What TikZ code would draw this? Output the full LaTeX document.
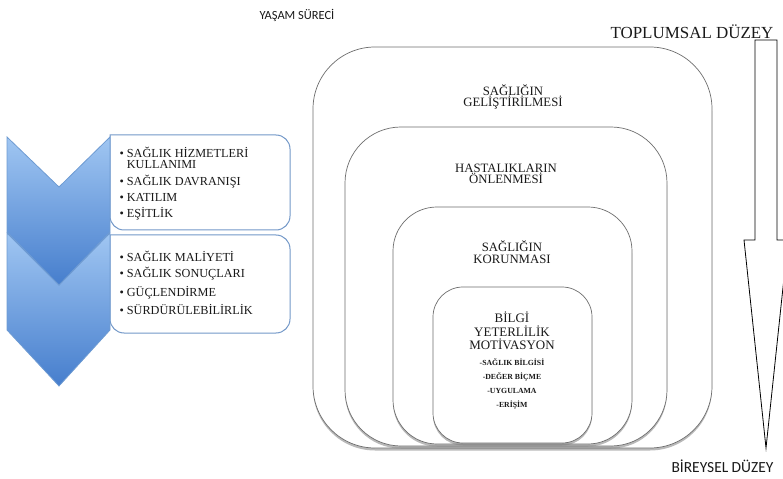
\documentclass[tikz,border=0pt]{standalone}
\usepackage{fontspec}
\setmainfont{Liberation Serif}
\newfontfamily\calfont{Carlito}
\usetikzlibrary{positioning,shadows}

\definecolor{chevtop}{RGB}{160,198,242}
\definecolor{chevbot}{RGB}{70,126,205}
\definecolor{chevline}{RGB}{110,155,210}
\definecolor{boxline}{RGB}{115,152,200}
\definecolor{ink}{RGB}{25,25,25}
\definecolor{layerline}{RGB}{110,110,110}

\begin{document}
\begin{tikzpicture}[x = 1bp, y = -1bp,
                    chevron/.style  = {draw = chevline,
                                       top color = chevtop,
                                       bottom color = chevbot,
                                       line width = 0.8bp},
                    listbox/.style  = {draw = boxline,
                                       fill = white,
                                       line width = 1bp},
                    items/.style    = {align = left,
                                       anchor = west,
                                       text = ink,
                                       font = \fontsize{12.3}{11}\selectfont},
                    layer/.style    = {draw = layerline,
                                       fill = white,
                                       line width = 0.7bp,
                                       inner sep = 0pt,
                                       drop shadow = {shadow xshift = 0bp,
                                                      shadow yshift = -2.5bp,
                                                      opacity = 0.55}},
                    tag/.style      = {align = center,
                                       text = ink,
                                       font = \fontsize{12.8}{11.5}\selectfont},
                    small/.style    = {align = center,
                                       text = ink,
                                       font = \bfseries\fontsize{7.8}{14}\selectfont}]

\useasboundingbox (0,0) rectangle (783,479);

% nested levels
\node[layer, minimum width = 399bp, minimum height = 401bp, rounded corners = 62bp] (promo) at (512.5,247.5) {};
\node[layer, minimum width = 322bp, minimum height = 319bp, rounded corners = 56bp] (prev)  at (506,286.5) {};
\node[layer, minimum width = 239bp, minimum height = 237bp, rounded corners = 44bp] (prot)  at (512.5,325.5) {};
\node[layer, minimum width = 159bp, minimum height = 156bp, rounded corners = 30bp] (core)  at (512.5,365) {};

\node[tag] (promoT) at (513,97)  {SAĞLIĞIN\\GELİŞTİRİLMESİ};
\node[tag] (prevT)  at (506,174) {HASTALIKLARIN\\ÖNLENMESİ};
\node[tag] (protT)  at (512,252) {SAĞLIĞIN\\KORUNMASI};
\node[tag, font = \fontsize{13}{13.5}\selectfont] (coreT) at (512,331) {BİLGİ\\YETERLİLİK\\MOTİVASYON};
\node[small] (coreL) at (512,384) {-SAĞLIK BİLGİSİ\\-DEĞER BİÇME\\-UYGULAMA\\-ERİŞİM};

% list boxes and chevrons
\draw[listbox] (110,135) [rounded corners = 14bp] -- (290,135) -- (290,230) -- (110,230) [sharp corners] -- cycle;
\draw[listbox] (110,235) [rounded corners = 14bp] -- (290,235) -- (290,333) -- (110,333) [sharp corners] -- cycle;

\draw[chevron] (7,233) -- (59,285) -- (110,233) -- (110,330) -- (59,386) -- (7,330) -- cycle;
\draw[chevron] (7,137) -- (59,187) -- (110,137) -- (110,232) -- (59,285) -- (7,232) -- cycle;

\node[items] (listA) at (116,184) {\textbullet\ SAĞLIK HİZMETLERİ\\\phantom{\textbullet\ }KULLANIMI\\[6bp]
                                    \textbullet\ SAĞLIK DAVRANIŞI\\[5bp]
                                    \textbullet\ KATILIM\\[5bp]
                                    \textbullet\ EŞİTLİK};
\node[items] (listB) at (116,283) {\textbullet\ SAĞLIK MALİYETİ\\[5.5bp]
                                    \textbullet\ SAĞLIK SONUÇLARI\\[5bp]
                                    \textbullet\ GÜÇLENDİRME\\[4.5bp]
                                    \textbullet\ SÜRDÜRÜLEBİLİRLİK};

% level arrow
\draw[line width = 0.8bp, fill = white] (755,40) -- (777,40) -- (777,240) -- (788,240)
      -- (766,448) -- (744,240) -- (755,240) -- cycle;

\node[anchor = base east, text = ink, font = \fontsize{17}{17}\selectfont] (society) at (777,39) {TOPLUMSAL DÜZEY};
\node[anchor = base east, text = ink, font = \calfont\fontsize{15.5}{15.5}\selectfont] (person) at (777,472) {BİREYSEL DÜZEY};
\node[anchor = base west, text = ink, font = \calfont\fontsize{12.5}{12.5}\selectfont] (life) at (256,20) {YAŞAM SÜRECİ};

\end{tikzpicture}
\end{document}
